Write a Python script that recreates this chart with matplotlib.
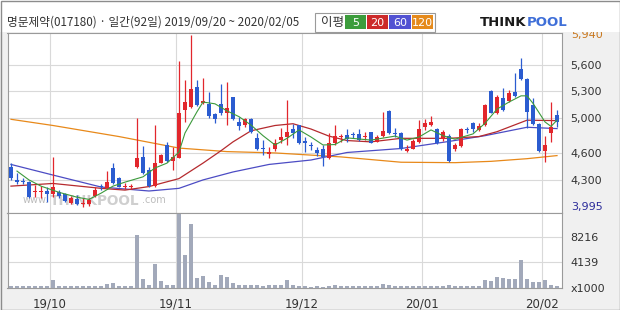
"""Daily candle chart with moving averages and volume, Thinkpool style."""

import matplotlib

matplotlib.use("Agg")
import matplotlib.pyplot as plt  # noqa: E402
import numpy as np  # noqa: E402
import pandas as pd  # noqa: E402
from matplotlib.patches import Rectangle  # noqa: E402

W, H = 620, 310
KR = ["Noto Sans CJK KR", "DejaVu Sans"]

title = "명문제약(017180) · 일간(92일) 2019/09/20 ~ 2020/02/05"

holidays = ["2019-10-03", "2019-10-09", "2019-12-25", "2019-12-31",
            "2020-01-01", "2020-01-24", "2020-01-27"]
dates = pd.bdate_range("2019-09-20", "2020-02-05").difference(pd.to_datetime(holidays))

opens = [4445, 4295, 4290, 4275, 4165, 4165, 4180, 4140, 4165, 4140,
         4040, 4085, 4030, 4030, 4120, 4225, 4210, 4435, 4320, 4220,
         4220, 4450, 4555, 4410, 4235, 4495, 4695, 4515, 4550, 5095,
         5125, 5345, 5165, 5160, 5045, 5160, 5055, 5235, 4960, 4920,
         4985, 4770, 4660, 4595, 4645, 4750, 4780, 4875, 4915, 4740,
         4690, 4640, 4655, 4545, 4720, 4785, 4810, 4815, 4820, 4785,
         4840, 4730, 4795, 5080, 4825, 4825, 4630, 4655, 4730, 4900,
         4920, 4870, 4760, 4795, 4650, 4685, 4865, 4940, 4865, 4920,
         5305, 5060, 5220, 5195, 5295, 5550, 5435, 5145, 4930, 4630,
         4825, 5035]
highs = [4490, 4380, 4320, 4290, 4245, 4230, 4220, 4560, 4185, 4150,
         4120, 4130, 4095, 4095, 4220, 4255, 4400, 4490, 4335, 4270,
         4255, 5005, 4685, 4445, 4920, 4595, 4730, 4670, 5645, 5430,
         5940, 5430, 5450, 5295, 5055, 5385, 5405, 5240, 5010, 4995,
         4995, 4825, 4750, 4675, 4760, 4885, 5205, 4930, 4920, 4780,
         4730, 4670, 4695, 4825, 4920, 4820, 4870, 4845, 4870, 4845,
         4845, 4810, 5070, 5090, 4885, 4845, 4695, 4760, 4975, 4985,
         5020, 4885, 4865, 4820, 4715, 4885, 4900, 4960, 4940, 5160,
         5315, 5260, 5335, 5315, 5510, 5675, 5450, 5220, 4940, 4795,
         5185, 5090]
lows = [4300, 4255, 4255, 4095, 4105, 4095, 4050, 4105, 4095, 4050,
        4030, 4015, 3995, 4005, 4105, 4185, 4195, 4255, 4215, 4195,
        4195, 4430, 4365, 4225, 4225, 4490, 4505, 4410, 4545, 4960,
        5110, 5135, 5160, 4995, 4945, 5035, 4920, 4975, 4865, 4895,
        4825, 4640, 4580, 4545, 4630, 4715, 4695, 4770, 4705, 4620,
        4640, 4570, 4455, 4535, 4695, 4730, 4730, 4770, 4745, 4750,
        4715, 4725, 4790, 4820, 4790, 4640, 4620, 4650, 4720, 4865,
        4910, 4705, 4745, 4505, 4630, 4675, 4835, 4845, 4855, 4910,
        5055, 5045, 5080, 5185, 5240, 5430, 4885, 4920, 4620, 4505,
        4730, 4900]
closes = [4320, 4280, 4275, 4105, 4175, 4175, 4140, 4220, 4120, 4060,
          4095, 4030, 4040, 4075, 4185, 4215, 4275, 4265, 4225, 4230,
          4225, 4550, 4375, 4235, 4490, 4580, 4515, 4560, 5055, 5185,
          5325, 5145, 5190, 5020, 4985, 5055, 5110, 4985, 4910, 4985,
          4845, 4655, 4650, 4620, 4715, 4790, 4840, 4835, 4715, 4715,
          4680, 4605, 4560, 4715, 4795, 4795, 4760, 4805, 4750, 4795,
          4720, 4790, 4855, 4825, 4815, 4655, 4655, 4745, 4870, 4945,
          4960, 4720, 4845, 4515, 4695, 4870, 4860, 4875, 4910, 5145,
          5060, 5235, 5090, 5285, 5250, 5435, 5070, 4930, 4630, 4695,
          4900, 4960]
volume = [300, 280, 260, 250, 300, 320, 300, 1250, 300, 280,
          400, 300, 320, 300, 300, 280, 600, 780, 300, 280,
          300, 8500, 1500, 560, 3800, 1050, 560, 560, 11850, 5250,
          10250, 1650, 2000, 950, 500, 2150, 1850, 780, 560, 560,
          450, 450, 400, 450, 420, 500, 1300, 560, 400, 300,
          240, 260, 200, 250, 500, 300, 280, 300, 400, 300,
          250, 300, 700, 560, 300, 280, 260, 300, 350, 300,
          380, 350, 300, 500, 350, 400, 300, 330, 380, 1300,
          1200, 1700, 1550, 1500, 1500, 4450, 1450, 1000, 1000, 1300,
          500, 400]

# moving averages (day index, price)
ma5_day = [1, 3, 5, 8, 11, 13, 15, 17, 19, 22, 24, 26, 28, 29, 31, 32, 34, 36,
           38, 40, 42, 44, 46, 48, 50, 52, 54, 56, 60, 64, 66, 68, 70, 72, 74,
           77, 79, 81, 83, 85, 86, 87, 89, 90, 91]
ma5_val = [4400, 4300, 4230, 4160, 4105, 4080, 4150, 4230, 4275, 4335, 4435,
           4490, 4615, 4830, 5070, 5180, 5160, 5080, 5015, 4920, 4800, 4695,
           4770, 4865, 4785, 4695, 4700, 4775, 4750, 4795, 4750, 4785, 4865,
           4800, 4760, 4820, 4940, 5100, 5180, 5250, 5250, 5165, 4955, 4905,
           4975]
ma20_day = [0, 7, 15, 19, 23, 28, 32, 35, 37, 40, 44, 47, 50, 53, 56, 60, 65,
            73, 78, 81, 86, 91]
ma20_val = [4230, 4260, 4205, 4185, 4225, 4315, 4490, 4630, 4730, 4855, 4915,
            4935, 4875, 4795, 4745, 4730, 4770, 4770, 4790, 4845, 4975, 4970]
ma60_day = [0, 7, 15, 23, 28, 32, 37, 43, 50, 56, 65, 73, 79, 86, 91]
ma60_val = [4475, 4355, 4220, 4175, 4205, 4300, 4390, 4475, 4525, 4610, 4655,
            4735, 4800, 4895, 4880]
ma120_day = [0, 7, 18, 28, 36, 44, 55, 65, 74, 80, 86, 91]
ma120_val = [4985, 4915, 4790, 4660, 4620, 4605, 4560, 4500, 4495, 4510, 4540,
             4575]

price_ticks = [4300, 4600, 5000, 5300, 5600]
vol_ticks = [0, 4139, 8216]
price_max, price_min = 5940, 3995

RED, BLUE = "#e2262c", "#2b5cd0"
MA_COLORS = {"5": "#3c9a3c", "20": "#b52a2e", "60": "#4c4cc4", "120": "#e8891a"}
LEGEND_BG = {"5": "#3c9c3c", "20": "#cc2a2a", "60": "#5252d2", "120": "#e58a1c"}
GRID = "#d9d9d9"
EDGE = "#9a9a9a"


def fx(px):
    return px / W


def fy(py):
    return 1 - py / H


fig = plt.figure(figsize=(W / 100, H / 100), dpi=100, facecolor="#f0f0f0")
fig.patches.append(Rectangle((0, fy(32)), 1, 32 / H, transform=fig.transFigure,
                             facecolor="white", edgecolor="none", zorder=0))

left, right = 7.5, 562
ax = fig.add_axes([fx(left), fy(212.5), fx(right - left), (212.5 - 33) / H])
axv = fig.add_axes([fx(left), fy(288), fx(right - left), (288 - 212.5) / H])

x = np.arange(len(dates))
o, h, l, c = map(np.array, (opens, highs, lows, closes))
up = c >= o
colors = np.where(up, RED, BLUE)

ax.vlines(x, l, h, colors=colors, lw=0.9, zorder=4)
body = np.maximum(np.abs(c - o), 12)
ax.bar(x, body, bottom=np.minimum(o, c), width=0.72, color=colors, lw=0, zorder=5)

ax.plot(ma120_day, ma120_val, color=MA_COLORS["120"], lw=0.9, zorder=3)
ax.plot(ma60_day, ma60_val, color=MA_COLORS["60"], lw=0.9, zorder=3)
ax.plot(ma20_day, ma20_val, color=MA_COLORS["20"], lw=0.9, zorder=3)
ax.plot(ma5_day, ma5_val, color=MA_COLORS["5"], lw=0.8, zorder=6)

axv.bar(x, volume, width=0.72, color="#a2a9ba", lw=0, zorder=3)

month_start = [i for i in range(1, len(dates)) if dates[i].month != dates[i - 1].month]
month_pos = [i - 0.5 for i in month_start]
month_lbl = [dates[i].strftime("%y/%m") for i in month_start]

for a in (ax, axv):
    a.set_xlim(-0.58, 91.83)
    a.set_facecolor("white")
    a.set_xticks(month_pos)
    a.grid(True, color=GRID, lw=0.8, zorder=0)
    a.set_axisbelow(True)
    for s in a.spines.values():
        s.set_color(EDGE)
        s.set_linewidth(0.8)
    a.yaxis.tick_right()
    a.tick_params(length=0, labelsize=8, colors="#333333", pad=6)

ax.set_ylim(3932, 5960)
ax.set_yticks(price_ticks)
ax.set_yticklabels([f"{v:,}" for v in price_ticks])
ax.set_xticklabels([])
ax.text(1.0 + 9 / (right - left), price_max, f"{price_max:,}", transform=ax.get_yaxis_transform(),
        ha="left", va="center", fontsize=8, color="#c9781e")
ax.text(1.0 + 9 / (right - left), price_min, f"{price_min:,}", transform=ax.get_yaxis_transform(),
        ha="left", va="center", fontsize=8, color="#2c2c9a")

axv.set_ylim(0, 12155)
axv.set_yticks(vol_ticks)
axv.set_yticklabels(["x1000"] + [str(v) for v in vol_ticks[1:]])
axv.set_xticklabels(month_lbl)
axv.tick_params(axis="x", pad=7, labelsize=8.5)

# watermark
ax.text(0.028, 0.04, "www.", transform=ax.transAxes, fontsize=7, color="#bdbdbd",
        va="bottom", zorder=2)
ax.text(0.077, 0.025, "THINKPOOL", transform=ax.transAxes, fontsize=9.8, weight="bold",
        color="#cfcfcf", va="bottom", zorder=2)
ax.text(0.243, 0.04, ".com", transform=ax.transAxes, fontsize=7, color="#bdbdbd",
        va="bottom", zorder=2)

# header
fig.text(fx(7), fy(22.5), title, family=KR, fontsize=8.4, color="#333333", va="center")

fig.patches.append(Rectangle((fx(315), fy(32)), fx(120), 19 / H, transform=fig.transFigure,
                             facecolor="white", edgecolor="#9a9a9a", lw=0.8))
fig.text(fx(332), fy(22.5), "이평", family=KR, fontsize=9, color="#333333",
         ha="center", va="center")
box_x = [345, 367, 389, 412]
box_w = [21, 21, 22, 21]
for (name, bg), bx, bw in zip(LEGEND_BG.items(), box_x, box_w):
    fig.patches.append(Rectangle((fx(bx), fy(29)), fx(bw), 14 / H, transform=fig.transFigure,
                                 facecolor=bg, edgecolor="none"))
    fig.text(fx(bx + bw / 2), fy(22.5), name, fontsize=8, color="white",
             ha="center", va="center")

fig.text(fx(480), fy(22), "THINK", fontsize=9.5, weight="heavy", color="#1a1a1a",
         va="center", family="DejaVu Sans")
fig.text(fx(527), fy(22), "POOL", fontsize=9.5, weight="heavy", color="#3f6fd8",
         va="center", family="DejaVu Sans")

fig.patches.append(Rectangle((fx(0.5), fy(309.5)), fx(619), 309 / H, transform=fig.transFigure,
                             facecolor="none", edgecolor="#8c8c8c", lw=1))

fig.savefig("out.png", dpi=100, facecolor=fig.get_facecolor())
plt.close(fig)
